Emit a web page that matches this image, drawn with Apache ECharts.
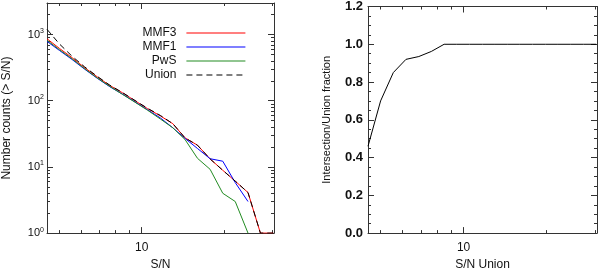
<!DOCTYPE html>
<html>
<head>
<meta charset="utf-8">
<script src="https://cdn.jsdelivr.net/npm/echarts@6/dist/echarts.min.js"></script>
<style>
html,body{margin:0;padding:0;background:#fff;}
#chart{width:600px;height:276px;}
</style>
</head>
<body>
<div id="chart"></div>
<script>
// S/N bins (log-spaced)
const snBins = [4.50, 5.00, 5.56, 6.18, 6.88, 7.64, 8.50, 9.45, 10.5, 11.7, 13.0, 14.4, 16.0, 17.8, 19.8, 22.0, 24.5, 27.2, 30.3];
// cumulative number counts N(> S/N)
const mmf3  = [863, 617, 447, 316, 229, 170, 132, 100, 76, 59, 45, 27.5, 21.3, 13.2, 8.9, 6.1, 4.1, 1, 1];
const mmf1  = [790, 575, 420, 300, 218, 163, 126, 96, 73, 55, 39, 27, 19, 13.3, 12.2, 5.8, 3.0];
const pws   = [820, 590, 430, 305, 220, 165, 125, 95, 72, 53, 39, 26, 13.5, 9.2, 4.0, 3.0, 1];
const union = [1200, 720, 470, 325, 233, 172, 133, 101, 77, 60, 45, 27.5, 21.3, 13.2, 8.9, 6.1, 4.1, 1, 1];
// intersection / union fraction
const fraction = [0.46, 0.70, 0.85, 0.92, 0.935, 0.962, 1.0, 1.0, 1.0, 1.0, 1.0, 1.0, 1.0, 1.0, 1.0, 1.0, 1.0, 1.0, 1.0];

const xMajorTicks = [10];
const xMinorTicks = [5, 6, 7, 8, 9, 20, 30];
const yMajorTicksLog = [1, 10, 100, 1000];
const yMinorTicksLog = [2,3,4,5,6,7,8,9,20,30,40,50,60,70,80,90,200,300,400,500,600,700,800,900,2000,3000];

const FONT = '"Liberation Sans", Arial, Helvetica, sans-serif';
const AX = '#333';
const txt = {color: '#111', fontFamily: FONT, fontSize: 12};

function pair(a, b) { return a.map((v, i) => [v, b[i]]); }

function xAxesFor(grid, name) {
  const base = {type: 'log', logBase: 10, min: 4.5, max: 30.5, gridIndex: grid,
    splitLine: {show: false}, minorTick: {show: false}};
  const line = {show: true, onZero: false, lineStyle: {color: AX, width: 1}};
  const noLine = {show: false, onZero: false};
  return [
    Object.assign({}, base, {position: 'bottom', name: name, nameLocation: 'middle', nameGap: 25,
      nameTextStyle: txt, axisLine: line,
      axisTick: {show: true, inside: true, length: 6, customValues: xMajorTicks, lineStyle: {color: AX}},
      axisLabel: {show: true, customValues: xMajorTicks, margin: 9, color: '#111', fontFamily: FONT, fontSize: 12}}),
    Object.assign({}, base, {position: 'bottom', axisLine: noLine,
      axisTick: {show: true, inside: true, length: 3, customValues: xMinorTicks, lineStyle: {color: AX}},
      axisLabel: {show: false, customValues: xMinorTicks}}),
    Object.assign({}, base, {position: 'top', axisLine: line,
      axisTick: {show: true, inside: true, length: 6, customValues: xMajorTicks, lineStyle: {color: AX}},
      axisLabel: {show: false, customValues: xMajorTicks}}),
    Object.assign({}, base, {position: 'top', axisLine: noLine,
      axisTick: {show: true, inside: true, length: 3, customValues: xMinorTicks, lineStyle: {color: AX}},
      axisLabel: {show: false, customValues: xMinorTicks}})
  ];
}

const logBase = {type: 'log', logBase: 10, min: 1, max: 3000, gridIndex: 0,
  splitLine: {show: false}, minorTick: {show: false}};
const lineOn = {show: true, onZero: false, lineStyle: {color: AX, width: 1}};
const lineOff = {show: false, onZero: false};

const yAxes = [
  Object.assign({}, logBase, {position: 'left', name: 'Number counts (> S/N)', nameLocation: 'middle', nameGap: 34,
    nameTextStyle: txt, axisLine: lineOn,
    axisTick: {show: true, inside: true, length: 6, customValues: yMajorTicksLog, lineStyle: {color: AX}},
    axisLabel: {show: true, customValues: yMajorTicksLog, margin: 3,
      formatter: function (v) { return '{b|10}{s|' + Math.round(Math.log10(v)) + '}'; },
      rich: {b: {fontFamily: FONT, fontSize: 11, color: '#111', lineHeight: 14},
             s: {fontFamily: FONT, fontSize: 7, color: '#111', verticalAlign: 'top', lineHeight: 14}}}}),
  Object.assign({}, logBase, {position: 'left', axisLine: lineOff,
    axisTick: {show: true, inside: true, length: 3, customValues: yMinorTicksLog, lineStyle: {color: AX}},
    axisLabel: {show: false, customValues: yMinorTicksLog}}),
  Object.assign({}, logBase, {position: 'right', axisLine: lineOn,
    axisTick: {show: true, inside: true, length: 6, customValues: yMajorTicksLog, lineStyle: {color: AX}},
    axisLabel: {show: false, customValues: yMajorTicksLog}}),
  Object.assign({}, logBase, {position: 'right', axisLine: lineOff,
    axisTick: {show: true, inside: true, length: 3, customValues: yMinorTicksLog, lineStyle: {color: AX}},
    axisLabel: {show: false, customValues: yMinorTicksLog}}),
  {type: 'value', gridIndex: 1, min: 0, max: 1.2, interval: 0.2, position: 'left',
    name: 'Intersection/Union fraction', nameLocation: 'middle', nameGap: 36,
    nameTextStyle: {color: '#111', fontFamily: FONT, fontSize: 11},
    splitLine: {show: false}, axisLine: lineOn,
    axisTick: {show: true, inside: true, length: 6, lineStyle: {color: AX}},
    minorTick: {show: true, splitNumber: 4, length: 3, lineStyle: {color: AX}},
    axisLabel: {show: true, margin: 5, color: '#111', fontFamily: FONT, fontSize: 13, fontWeight: 'bold',
      formatter: function (v) { return v.toFixed(1); }}},
  {type: 'value', gridIndex: 1, min: 0, max: 1.2, interval: 0.2, position: 'right',
    splitLine: {show: false}, axisLine: lineOn,
    axisTick: {show: true, inside: true, length: 6, lineStyle: {color: AX}},
    minorTick: {show: true, splitNumber: 4, length: 3, lineStyle: {color: AX}},
    axisLabel: {show: false}}
];

function lineSeries(name, data, color, type, xi, yi) {
  return {name: name, type: 'line', xAxisIndex: xi, yAxisIndex: yi, data: data,
    symbol: 'none', showSymbol: false, animation: false, clip: true,
    lineStyle: {color: color, width: 1, type: type}, itemStyle: {color: color}};
}

const option = {
  backgroundColor: '#fff',
  animation: false,
  grid: [
    {left: 44, top: 3, width: 230, height: 232, containLabel: false},
    {left: 368, top: 3, width: 229, height: 232, containLabel: false}
  ],
  xAxis: xAxesFor(0, 'S/N').concat(xAxesFor(1, 'S/N Union')),
  yAxis: yAxes,
  legend: {
    orient: 'vertical', align: 'right', right: 349, top: 22,
    itemWidth: 59, itemHeight: 14, itemGap: 2,
    itemStyle: {color: 'rgba(0,0,0,0)', borderWidth: 0, opacity: 0},
    lineStyle: {width: 1.2},
    textStyle: {color: '#111', fontFamily: FONT, fontSize: 12, padding: [0, 5, 0, 0]},
    data: ['MMF3', 'MMF1', 'PwS', 'Union']
  },
  series: [
    lineSeries('MMF3', pair(snBins, mmf3), '#ff0000', 'solid', 0, 0),
    lineSeries('MMF1', pair(snBins, mmf1), '#0000ff', 'solid', 0, 0),
    lineSeries('PwS', pair(snBins, pws), '#228b22', 'solid', 0, 0),
    lineSeries('Union', pair(snBins, union), '#000000', [6, 4], 0, 0),
    lineSeries('fraction', pair(snBins, fraction), '#000000', 'solid', 4, 4)
  ]
};

const chart = echarts.init(document.getElementById('chart'), null, {renderer: 'canvas'});
chart.setOption(option);
</script>
</body>
</html>
